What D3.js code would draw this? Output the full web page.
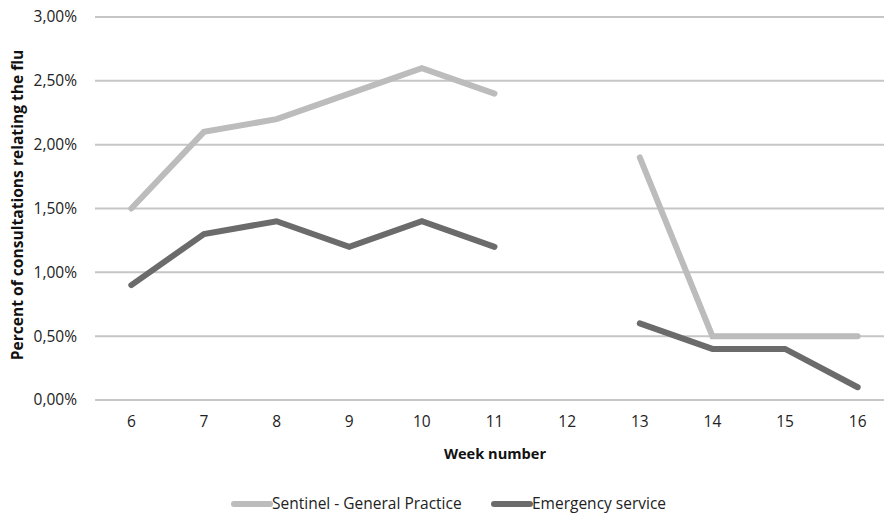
<!DOCTYPE html>
<html>
<head>
<meta charset="utf-8">
<script src="https://cdn.jsdelivr.net/npm/d3@7/dist/d3.min.js"></script>
<style>
  html, body { margin: 0; padding: 0; background: #fff; }
  svg { display: block; font-family: "Open Sans", "Noto Sans", sans-serif; }
</style>
</head>
<body>
<svg id="chart" width="884" height="514"></svg>
<script>
// Weekly share of consultations related to flu, per source
const weeks = [6, 7, 8, 9, 10, 11, 12, 13, 14, 15, 16];
const sentinel = [1.5, 2.1, 2.2, 2.4, 2.6, 2.4, null, 1.9, 0.5, 0.5, 0.5];
const emergency = [0.9, 1.3, 1.4, 1.2, 1.4, 1.2, null, 0.6, 0.4, 0.4, 0.1];
const yTicks = [0, 0.5, 1, 1.5, 2, 2.5, 3];
const seriesNames = ["Sentinel - General Practice", "Emergency service"];
const seriesColors = ["#bcbcbc", "#6b6b6b"];

const svg = d3.select("#chart");
const plot = { left: 95, right: 894, top: 17, bottom: 400 };

const x = d3.scaleBand().domain(weeks).range([plot.left, plot.right]).padding(0);
const y = d3.scaleLinear().domain([0, 3]).range([plot.bottom, plot.top]);

const fmt = v => d3.format(".2f")(v).replace(".", ",") + "%";

// Horizontal gridlines
svg.append("g")
  .selectAll("line")
  .data(yTicks)
  .join("line")
  .attr("x1", plot.left)
  .attr("x2", plot.right)
  .attr("y1", d => y(d))
  .attr("y2", d => y(d))
  .attr("stroke", "#c6c6c6")
  .attr("stroke-width", 2);

// Y axis labels
const yAxis = d3.axisLeft(y).tickValues(yTicks).tickFormat(fmt).tickSize(0).tickPadding(18);
const gy = svg.append("g").attr("transform", `translate(${plot.left},0)`).call(yAxis);
gy.select(".domain").remove();
gy.selectAll("text")
  .attr("font-size", 15.5)
  .attr("fill", "#222")
  .attr("font-family", "Open Sans, sans-serif");

// X axis labels
const xAxis = d3.axisBottom(x).tickSize(0).tickPadding(16);
const gx = svg.append("g").attr("transform", `translate(0,${plot.bottom})`).call(xAxis);
gx.select(".domain").remove();
gx.selectAll("text")
  .attr("font-size", 15.5)
  .attr("fill", "#222")
  .attr("font-family", "Open Sans, sans-serif");

// Axis titles
svg.append("text")
  .attr("x", 495)
  .attr("y", 459)
  .attr("text-anchor", "middle")
  .attr("font-size", 14.6)
  .attr("font-weight", "bold")
  .attr("fill", "#111")
  .text("Week number");

svg.append("text")
  .attr("transform", `translate(23,205) rotate(-90)`)
  .attr("text-anchor", "middle")
  .attr("font-size", 15.6)
  .attr("font-weight", "bold")
  .attr("fill", "#111")
  .text("Percent of consultations relating the flu");

// Series lines, broken where a week has no value
const line = d3.line()
  .defined(d => d.v != null)
  .x(d => x(d.w) + x.bandwidth() / 2)
  .y(d => y(d.v));

[sentinel, emergency].forEach((vals, i) => {
  svg.append("path")
    .datum(weeks.map((w, j) => ({ w, v: vals[j] })))
    .attr("d", line)
    .attr("fill", "none")
    .attr("stroke", seriesColors[i])
    .attr("stroke-width", 6)
    .attr("stroke-linejoin", "miter")
    .attr("stroke-linecap", "round");
});

// Legend
const legendX = [234, 494];
seriesNames.forEach((name, i) => {
  const g = svg.append("g").attr("transform", `translate(${legendX[i]},504)`);
  g.append("line")
    .attr("x1", 0).attr("x2", 36)
    .attr("y1", 0).attr("y2", 0)
    .attr("stroke", seriesColors[i])
    .attr("stroke-width", 6)
    .attr("stroke-linecap", "round");
  g.append("text")
    .attr("x", 38)
    .attr("y", 5)
    .attr("font-size", 15.5)
    .attr("fill", "#222")
    .text(name);
});
</script>
</body>
</html>
